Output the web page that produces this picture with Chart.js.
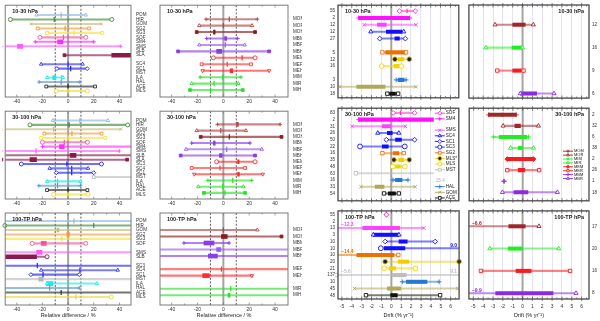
<!DOCTYPE html>
<html>
<head>
<meta charset="utf-8">
<script src="https://cdn.jsdelivr.net/npm/chart.js@4.4.0/dist/chart.umd.min.js"></script>
<style>
  body { margin: 0; background: #fff; width: 600px; height: 321px; overflow: hidden; position: relative; }
</style>
</head>
<body>
<script>
// ---------- relative differences (%), left two columns ----------
const a1Names = ['POM','HIR','GOM','SG2','SG3','SOF','SM4','SMS','SLB','SLA','','SC4','SC1','MST','ILA','HAL','ACE','MLS'];
const a1Lo  = [-24.6,-45,-29,-23.6,-16.4,-22,-25.6,-52,null,-2.8,null,-21,-8.7,null,-16.4,-22.6,-17,-9.2];
const a1Hi  = [13.8,34,26,16.4,26.7,13.8,20,41,null,55,null,11.3,14.9,null,-4,9.2,21,14.9];
const a1Q1  = [null,null,null,null,null,null,-8.2,-39.5,null,34,null,null,null,null,-12,null,null,null];
const a1Q3  = [null,null,null,null,null,null,-4.1,-35.4,null,55,null,null,null,null,-9.5,null,null,null];
const a1Med = [-5.4,-10.8,null,-2.3,4.6,-3.6,null,null,null,null,null,0,2,null,-5,-5.4,0,0];

const a2Names = ['POM','HIR','GOM','SG2','SG3','SOF','SM4','SMS','SLB','SLA','SC3','SC4','SC1','MST','ILA','HAL','ACE','MLS'];
const a2Lo  = [-11.8,-29.7,-52,-18.5,-21,-20,-20,-52,-55,-52,-36.4,-14.4,-9.2,20,-16.4,-22.8,-16.4,-11.3];
const a2Hi  = [31,46.4,41,26,29,15,55,40,55,46,26,15.6,20,55,9.7,9.7,15,15.6];
const a2Q1  = [null,null,null,null,null,null,-6.7,null,1.5,-29.7,null,null,null,null,null,null,null,null];
const a2Q3  = [null,null,null,null,null,null,-3,null,6.2,-24.6,null,null,null,null,null,null,null,null];
const a2Med = [9.2,0.8,-11.3,3,0,-3,null,-25,null,null,-1,2.8,2.8,null,-8.2,-8.2,0,0];

const a3Names = ['POM','HIR','GOM','SG2','SG3','SOF','','SMS','SLB','','SC3','SC4','SC1','MST','ILA','HAL','ACE','MLS'];
const a3Lo  = [-55,-49.3,-55,-55,-55,-28,null,-55,-55,null,-55,-21,-29,-55,-16.4,-55,-55,-55];
const a3Hi  = [55,55,55,55,55,13.8,null,55,-16.4,null,55,38.7,8.7,55,22.5,8.7,55,33.6];
const a3Q1  = [null,null,-8.7,-1,null,-21,null,-24.6,-55,null,null,null,null,-22.8,-17,null,null,null];
const a3Q3  = [null,null,-7.2,1,null,-17,null,-20.3,-24.6,null,null,null,null,-19.5,-11.8,null,null,null];
const a3Med = [4.6,20,null,null,-4.9,null,null,null,null,null,-24,9.2,-19.5,null,null,-14.4,-5.4,6];

const b1Names = ['MOM','MOR','MOH','MBM','MBR','MBH','MEM','MER','MEH','MIM','MIR','MIH'];
const b1Lo  = [-13.4,-18.6,-20.6,-12.9,-18.6,-35,-7.7,-16.8,-16,-18,-24.5,-25.8];
const b1Hi  = [26.3,22.2,24.5,11.1,16.5,35.4,24.5,21.4,35.4,13.7,11.6,15];
const b1Q1  = [null,null,-7.7,1,null,-5.2,null,null,5.2,null,null,null];
const b1Q3  = [null,null,-6.3,2.6,null,-1.3,null,null,7.2,null,null,null];
const b1Med = [4.6,0,null,null,1.5,null,14.5,3,null,-0.5,-7.2,-9.8];

const b2Names = ['MOM','MOR','MOH','MBM','MBR','MBH','MEM','MER','MEH','MIM','MIR','MIH'];
const b2Lo  = [-4.6,-20.6,-17.5,-24.5,-28.9,-33,-5.2,-24.5,-22.5,-12,-19.4,-15];
const b2Hi  = [43.9,17.5,45,20.6,29.7,24.5,24.5,16.8,30.5,22,15.5,16.8];
const b2Q1  = [10.3,null,null,-7.7,null,-3,11,null,11,null,null,null];
const b2Q3  = [11.6,null,null,-6.3,null,-1,12.2,null,12.4,null,null,null];
const b2Med = [null,-2,4.6,null,2.6,null,null,-2.6,null,7.2,-0.5,1.3];

const b3Names = ['','MOR','MOH','MBM','MBR','MBH','','MER','MEH','','MIR','MIH'];
const b3Lo  = [null,-55,-55,-30.5,-55,-55,null,-55,-55,null,-55,-55];
const b3Hi  = [null,26.3,45,4.4,55,55,null,55,22,null,55,55];
const b3Q1  = [null,null,-1.5,-15,-5.2,-11.6,null,null,-16,null,null,3.6];
const b3Q3  = [null,null,3,-7.2,-2,-4.6,null,null,-10.8,null,null,5.2];
const b3Med = [null,0,null,null,null,null,null,-1.5,null,null,5.7,null];

// ---------- drift (% per year), right two columns ----------
const driftNames = ['SOF','SM4','SMS','SC4','SC1','SC3','SG2','MLS*','MLS','MST','HAL','GOM','ACE'];

const c1Counts = ['55','2','12','12','27','','5','12','16','','3','10','18'];
const c1Lo  = [0.83,-3.3,-2.73,-2.07,-1.17,null,-0.9,0.37,-0.97,null,0.5,-5.2,-0.4];
const c1Hi  = [2.43,1.87,2.5,1.27,1.43,null,1.5,1.83,1.03,null,1.5,2.5,0.7];
const c1Q1  = [null,-3.3,-1.4,-0.5,0.37,null,-0.57,0.7,0.27,null,0.7,-3.5,-0.17];
const c1Q3  = [null,1.87,-0.5,1.1,0.83,null,1.5,1.27,0.77,null,1.3,-0.63,0.43];
const c1Med = [1.6,-0.7,null,null,null,null,null,null,null,null,null,null,null];

const c2Counts = ['83','2','31','26','50','22','16','35','48','63','16','33','54'];
const c2Lo  = [0.2,-3.3,-3.97,-1.37,-0.5,-3.17,-0.9,0.27,0.17,-3.6,0.17,-3.07,-0.73];
const c2Hi  = [2.37,5.6,1.43,0.77,2.37,1.37,1.27,1.83,1.37,15.4,1.7,2.43,0.77];
const c2Q1  = [null,-3.3,-0.9,-0.4,0.43,-0.9,0.2,0.77,0.43,null,0.43,-1.63,-0.3];
const c2Q3  = [null,5.6,-0.07,0.1,1.03,-0.3,0.77,1.27,0.93,null,1.1,-0.73,0.43];
const c2Med = [0.93,0.85,null,null,null,null,null,null,null,null,null,null,null];
const c2Legend = ['SOF','SM4','','SMS','SC4','SC1','SC3','SG2','MLS*','MLS','MST','','15.4','HAL','GOM','ACE'];

const c3Counts = ['55','2','13','3','10','10','10','20','21','137','10','45','48'];
const c3Lo  = [-0.5,null,-12.3,-1.83,-0.63,-1.07,-14.4,-0.63,-0.73,-5.6,1.1,-3.73,-2.57];
const c3Hi  = [-0.5,null,3.27,0.77,4.43,9.0,0.7,6.85,2.43,9.1,4.83,6.7,4.93];
const c3Q1  = [null,null,-2.9,-1.83,0.77,-0.73,-3.5,0.7,-0.23,0.1,1.5,-0.4,-0.07];
const c3Q3  = [null,null,0.83,0.77,1.6,1.37,0.27,1.77,0.43,1.5,3.6,0.93,0.6];
const c3Notes = [
  {row: 2, side: 'left', text: '\u221212.3', name: 'SMS'},
  {row: 5, side: 'right', text: '9.0', name: 'SC3'},
  {row: 6, side: 'left', text: '\u221214.4', name: 'SG2'},
  {row: 9, side: 'left', text: '\u22125.6', name: 'MST'},
  {row: 9, side: 'right', text: '9.1', name: 'MST'}
];

const d1Names = ['MOR','MIR','MER','MBR'];
const d1Counts = ['12','16','9','6'];
const d1Lo = [-2.8,-3.73,-2.57,-0.23];
const d1Hi = [1.1,0,0.1,3.2];
const d1Q1 = [-1,-1.07,-1,-0.23];
const d1Q3 = [0.27,0,-0.13,1.43];

const d2Names = ['MOM','MOR','MIM','MIR','MEM','MER','MBM','MBR'];
const d2Counts = ['2','32','6','38','2','26','1','18'];
const d2Lo = [-3.47,-2,-3,-1.23,-1.57,-1.57,-1.9,-2.07];
const d2Hi = [-0.67,1.6,0.6,1.1,1.1,1.67,-1.9,3.53];
const d2Q1 = [-3.47,-0.8,-2.4,-0.47,-1.57,-0.47,null,-0.9];
const d2Q3 = [-0.67,-0.23,0.43,0,1.1,0.2,null,0.53];
const d2Med = [-2.1,null,null,null,-0.05,null,null,null];

const d3Names = ['MOR','MIR','MER','MBR'];
const d3Counts = ['17','20','16','8'];
const d3Lo = [-6.6,-3.33,-4.23,-9.9];
const d3Hi = [1.67,3.67,4.83,5.43];
const d3Q1 = [-1.4,-1.47,-0.67,-2.73];
const d3Q3 = [0.27,0,0.87,3.1];
const d3Notes = [
  {row: 0, side: 'left', text: '\u22126.6', name: 'MOR'},
  {row: 3, side: 'left', text: '\u22129.9', name: 'MBR'}
];

// ---------- styles ----------
const relColor = {
  POM:'#8fb8e0', HIR:'#3d8b37', GOM:'#c4bd7a', SG2:'#f59a45', SG3:'#f3e43a', SOF:'#f0589a',
  SM4:'#ff2eff', SMS:'#ff5cff', SLB:'#8b1a4b', SLA:'#8b1a4b', SC3:'#2222ff', SC4:'#3535f5',
  SC1:'#2222ee', MST:'#b8b8b8', ILA:'#22e8e8', HAL:'#5a96d8', ACE:'#2b2b2b', MLS:'#f0d838',
  MOM:'#b04848', MOR:'#b04848', MOH:'#8e1c1c', MBM:'#8a3de8', MBR:'#9a5cf0', MBH:'#8a3de8',
  MEM:'#ff2a2a', MER:'#ff3a3a', MEH:'#ff2a2a', MIM:'#2ee02e', MIR:'#2ee02e', MIH:'#2ee02e'
};
const relMark = {
  POM:'triangle', HIR:'circle', GOM:'crossRot', SG2:'rect', SG3:'rect', SOF:'circle', SM4:'cross',
  SMS:'cross', SLB:'circle', SLA:'rect', SC3:'circle', SC4:'triangle', SC1:'rectRot', MST:'rect',
  ILA:'triangle', HAL:'cross', ACE:'rect', MLS:'circle', MOM:'cross', MOR:'triangle', MOH:'rect',
  MBM:'cross', MBR:'triangle', MBH:'rect', MEM:'circle', MER:'rect', MEH:'tdown', MIM:'cross',
  MIR:'triangle', MIH:'rect'
};
const relFilled = ['SLA','MOH','MBH','MIH'];

const driftColor = {
  SOF:'#ff30c8', SM4:'#ff10ff', SMS:'#ff40ff', SC4:'#1010ff', SC1:'#1010ff', SC3:'#1010ff',
  SG2:'#ee7000', 'MLS*':'#f2cc00', MLS:'#f2d400', MST:'#bdbdbd', HAL:'#2878d0', GOM:'#b0a858',
  ACE:'#111111', MOM:'#a02828', MOR:'#a02828', MIM:'#20ee20', MIR:'#20ee20', MEM:'#ff1a1a',
  MER:'#ff1a1a', MBM:'#8a2be2', MBR:'#8a2be2'
};
const driftMark = {
  SOF:'rectRot', SM4:'cross', SMS:'crossRot', SC4:'triangle', SC1:'rectRot', SC3:'circle',
  SG2:'rect', 'MLS*':'circle', MLS:'circle', MST:'rect', HAL:'cross', GOM:'crossRot', ACE:'rect',
  MOM:'cross', MOR:'triangle', MIM:'cross', MIR:'triangle', MEM:'rectRot', MER:'rect',
  MBM:'cross', MBR:'triangle'
};
const driftFilled = ['MLS*','MEM'];
const driftMarkFill = {'MLS*':'#222222'};

const FONT = '"Liberation Sans", Arial, sans-serif';
Chart.defaults.font.family = FONT;
Chart.defaults.color = '#222';

function fade(hex, a) {
  const n = parseInt(hex.slice(1), 16);
  return 'rgba(' + (n >> 16) + ',' + ((n >> 8) & 255) + ',' + (n & 255) + ',' + a + ')';
}

function markShape(ctx, style, x, y, r, fill, stroke) {
  ctx.fillStyle = fill; ctx.strokeStyle = stroke; ctx.lineWidth = 0.9;
  Chart.helpers.drawPoint(ctx, {
    pointStyle: style === 'tdown' ? 'triangle' : style,
    rotation: style === 'tdown' ? 180 : 0, radius: r, borderWidth: 0.9
  }, x, y);
}

const deco = {
  id: 'deco',
  beforeDatasetsDraw(chart, args, o) {
    const {ctx, chartArea: a} = chart;
    const x = chart.scales.x;
    ctx.save();
    ctx.beginPath(); ctx.rect(a.left, a.top, a.right - a.left, a.bottom - a.top); ctx.clip();
    const z = x.getPixelForValue(0);
    ctx.strokeStyle = '#a4a4a4'; ctx.lineWidth = 2;
    ctx.beginPath(); ctx.moveTo(z, a.top); ctx.lineTo(z, a.bottom); ctx.stroke();
    if (o.dashed) {
      ctx.strokeStyle = '#333'; ctx.lineWidth = 0.8; ctx.setLineDash([2, 1.6]);
      o.dashed.forEach(v => {
        const px = x.getPixelForValue(v);
        ctx.beginPath(); ctx.moveTo(px, a.top); ctx.lineTo(px, a.bottom); ctx.stroke();
      });
    }
    ctx.restore();
  },
  afterDatasetsDraw(chart, args, o) {
    const {ctx, chartArea: a} = chart;
    const y = chart.scales.y;
    ctx.save();
    (o.notes || []).forEach(n => {
      ctx.font = 'bold 5px ' + FONT;
      ctx.fillStyle = o.colors[n.name];
      ctx.textBaseline = 'bottom';
      const py = y.getPixelForValue(n.row) - 0.5;
      if (n.side === 'left') { ctx.textAlign = 'left'; ctx.fillText(n.text, a.left + 3, py); }
      else { ctx.textAlign = 'right'; ctx.fillText(n.text, a.right - 2, py); }
    });
    if (o.legend) {
      const L = o.legend;
      ctx.fillStyle = '#fff';
      ctx.fillRect(a.right - L.boxW, a.top + 1, L.boxW - 1, L.boxH);
      L.items.forEach((name, k) => {
        if (!name) return;
        const py = a.top + L.top + k * L.step;
        const mx = a.right - L.mx;
        const col = o.colors[name];
        ctx.textBaseline = 'middle'; ctx.textAlign = 'left';
        ctx.font = L.font + 'px ' + FONT;
        if (!col) {
          ctx.fillStyle = '#aaa'; ctx.fillText(name, mx - 4, py);
          return;
        }
        ctx.strokeStyle = col; ctx.lineWidth = 0.9;
        ctx.beginPath(); ctx.moveTo(mx - 5, py); ctx.lineTo(mx + 5, py); ctx.stroke();
        const filled = o.filled.includes(name);
        const mc = (o.markFill && o.markFill[name]) || col;
        markShape(ctx, o.marks[name], mx, py, L.r, filled ? mc : '#fff', col);
        ctx.fillStyle = '#222';
        ctx.fillText(name, mx + 6, py);
      });
    }
    ctx.restore();
  },
  afterDraw(chart, args, o) {
    const {ctx, chartArea: a} = chart;
    const x = chart.scales.x;
    ctx.save();
    // ticks along top and bottom edges
    ctx.strokeStyle = o.frameColor; ctx.lineWidth = 0.7;
    for (let v = o.tickFrom; v <= o.tickTo + 1e-9; v += o.tickStep) {
      const px = x.getPixelForValue(v);
      const major = Math.abs(v - Math.round(v / o.majorStep) * o.majorStep) < 1e-6;
      const len = major ? o.tickLen : o.tickLen * 0.6;
      ctx.beginPath();
      ctx.moveTo(px, a.top - (major ? o.tickOut : 0)); ctx.lineTo(px, a.top + len);
      ctx.moveTo(px, a.bottom + (major ? o.tickOut : 0)); ctx.lineTo(px, a.bottom - len);
      ctx.stroke();
    }
    ctx.strokeStyle = o.frameColor; ctx.lineWidth = o.frameWidth;
    ctx.strokeRect(a.left, a.top, a.right - a.left, a.bottom - a.top);
    ctx.fillStyle = '#222';
    ctx.font = 'bold 5.5px ' + FONT;
    ctx.textBaseline = 'top';
    if (o.titleRight) { ctx.textAlign = 'right'; ctx.fillText(o.title, a.right - 5, a.top + 4); }
    else { ctx.textAlign = 'left'; ctx.fillText(o.title, a.left + 7, a.top + 4); }
    ctx.restore();
  }
};

function addPanel(p) {
  const cv = document.createElement('canvas');
  cv.width = p.box[2]; cv.height = p.box[3];
  cv.style.cssText = 'position:absolute;left:' + p.box[0] + 'px;top:' + p.box[1] + 'px';
  document.body.appendChild(cv);

  const rel = p.kind === 'rel';
  const colors = rel ? relColor : driftColor;
  const marksOf = rel ? relMark : driftMark;
  const filledSet = rel ? relFilled : driftFilled;
  const markFill = rel ? {} : driftMarkFill;

  const whisk = [], whiskC = [], boxes = [], boxC = [], meds = [], medC = [];
  const marks = [], mStyle = [], mRot = [], mFill = [], mLine = [];
  p.names.forEach((name, i) => {
    if (p.lo[i] === null || p.lo[i] === undefined) return;
    const col = colors[name];
    const st = marksOf[name];
    whisk.push({x: [p.lo[i], p.hi[i]], y: i});
    whiskC.push(fade(col, name === 'MST' ? 0.6 : (rel ? 0.65 : 0.55)));
    if (p.q1 && p.q1[i] !== null) { boxes.push({x: [p.q1[i], p.q3[i]], y: i}); boxC.push(col); }
    if (p.med && p.med[i] !== null && p.med[i] !== undefined) { meds.push({x: p.med[i], y: i}); medC.push(col); }
    const filled = filledSet.includes(name);
    const mc = markFill[name] || col;
    [p.lo[i], p.hi[i]].forEach(v => {
      marks.push({x: v, y: i});
      mStyle.push(st === 'tdown' ? 'triangle' : st);
      mRot.push(st === 'tdown' ? 180 : 0);
      mFill.push(filled ? mc : '#ffffff');
      mLine.push(col);
    });
  });

  const tickLabels = p.counts || p.names;
  const yLen = p.names.length;

  new Chart(cv, {
    type: 'scatter',
    data: {
      datasets: [
        {type: 'scatter', data: marks, pointStyle: mStyle, pointRotation: mRot,
         pointBackgroundColor: mFill, pointBorderColor: mLine,
         pointRadius: rel ? 2 : 2.4, pointBorderWidth: 0.9, order: 0, clip: 3},
        {type: 'scatter', data: meds, pointStyle: 'line', pointRotation: 90,
         pointBorderColor: medC, pointRadius: rel ? 2.6 : 2.2, pointBorderWidth: 1.2, order: 1},
        {type: 'bar', indexAxis: 'y', data: boxes, backgroundColor: boxC,
         barThickness: rel ? 4 : 3.4, grouped: false, borderWidth: 0, order: 2},
        {type: 'bar', indexAxis: 'y', data: whisk, backgroundColor: whiskC,
         barThickness: 1.4, grouped: false, borderWidth: 0, order: 3}
      ]
    },
    options: {
      responsive: false,
      animation: false,
      events: [],
      layout: {padding: p.pad},
      plugins: {
        legend: {display: false},
        tooltip: {enabled: false},
        deco: {
          title: p.title, titleRight: p.titleRight, dashed: rel ? [-10, 10] : null,
          frameColor: rel ? '#7a7a7a' : '#4a4a4a', frameWidth: rel ? 1 : 1.3,
          tickFrom: rel ? -40 : -5, tickTo: rel ? 40 : 6.5, tickStep: rel ? 10 : 0.5,
          majorStep: rel ? 20 : 1, tickLen: rel ? 2.5 : 2.6, tickOut: rel ? 0 : 2,
          notes: p.notes, legend: p.legend, colors: colors, marks: marksOf,
          filled: filledSet, markFill: markFill
        }
      },
      scales: {
        x: {
          type: 'linear', min: p.xMin, max: p.xMax, offset: false,
          border: {display: false},
          grid: rel ? {display: false, drawTicks: false, tickLength: 0, offset: false}
                    : {display: true, color: '#dedaf2', lineWidth: 0.8, drawTicks: false, tickLength: 0, offset: false},
          ticks: {display: p.xLabels, font: {size: 5}, padding: rel ? 2 : 5, maxRotation: 0,
                  autoSkip: false, color: '#333'},
          title: {display: !!p.xTitle, text: p.xTitle, font: {size: 5.5}, padding: {top: 0, bottom: 2}, color: '#222'},
          afterBuildTicks: s => {
            const t = [];
            if (rel) { for (let v = -40; v <= 40; v += 20) t.push({value: v}); }
            else { for (let v = -5; v <= 6; v++) t.push({value: v}); }
            s.ticks = t;
          },
          afterFit: s => { s.height = p.xH; s.paddingLeft = 0; s.paddingRight = 0; }
        },
        y: {
          type: 'linear', reverse: true, min: p.yMin, max: p.yMax, offset: false,
          position: p.yPos,
          border: {display: false},
          grid: {display: false, drawTicks: false, tickLength: 0, offset: false},
          ticks: {font: {size: 4.6}, padding: rel ? 5 : 3, autoSkip: false, color: '#333',
                  callback: v => tickLabels[v] || ''},
          afterBuildTicks: s => { s.ticks = Array.from({length: yLen}, (_, i) => ({value: i})); },
          afterFit: s => { s.width = p.yW; s.paddingTop = 0; s.paddingBottom = 0; }
        }
      }
    },
    plugins: [deco]
  });
}

const relX = {xMin: -49, xMax: 49};
const relX2 = {xMin: -49, xMax: 50};
const drX3 = {xMin: -5.4, xMax: 6.85};
const drX4 = {xMin: -5.45, xMax: 6.75};

// column 1
addPanel(Object.assign({kind: 'rel', box: [0, 0, 150, 106], pad: {left: 4, top: 5, right: 0, bottom: 0},
  yW: 19, xH: 9, yPos: 'right', yMin: -2.2, yMax: 18.35, xLabels: true, title: '10-30 hPa',
  names: a1Names, lo: a1Lo, hi: a1Hi, q1: a1Q1, q3: a1Q3, med: a1Med}, relX));
addPanel(Object.assign({kind: 'rel', box: [0, 106, 150, 100], pad: {left: 4, top: 2, right: 0, bottom: 0},
  yW: 19, xH: 7, yPos: 'right', yMin: -2.15, yMax: 18.05, xLabels: true, title: '30-100 hPa',
  names: a2Names, lo: a2Lo, hi: a2Hi, q1: a2Q1, q3: a2Q3, med: a2Med}, relX));
addPanel(Object.assign({kind: 'rel', box: [0, 206, 150, 115], pad: {left: 4, top: 7, right: 0, bottom: 0},
  yW: 19, xH: 16, yPos: 'right', yMin: -1.8, yMax: 18.8, xLabels: true, title: '100-TP hPa',
  xTitle: 'Relative difference / %',
  names: a3Names, lo: a3Lo, hi: a3Hi, q1: a3Q1, q3: a3Q3, med: a3Med}, relX));

// column 2
addPanel(Object.assign({kind: 'rel', box: [150, 0, 152, 106], pad: {left: 10, top: 5, right: 0, bottom: 0},
  yW: 14, xH: 9, yPos: 'right', yMin: -2.17, yMax: 12.08, xLabels: true, title: '10-30 hPa',
  names: b1Names, lo: b1Lo, hi: b1Hi, q1: b1Q1, q3: b1Q3, med: b1Med}, relX2));
addPanel(Object.assign({kind: 'rel', box: [150, 106, 152, 100], pad: {left: 10, top: 2, right: 0, bottom: 0},
  yW: 14, xH: 7, yPos: 'right', yMin: -2.12, yMax: 11.98, xLabels: true, title: '30-100 hPa',
  names: b2Names, lo: b2Lo, hi: b2Hi, q1: b2Q1, q3: b2Q3, med: b2Med}, relX2));
addPanel(Object.assign({kind: 'rel', box: [150, 206, 152, 115], pad: {left: 10, top: 7, right: 0, bottom: 0},
  yW: 14, xH: 16, yPos: 'right', yMin: -1.6, yMax: 12.5, xLabels: true, title: '100-TP hPa',
  xTitle: 'Relative difference / %',
  names: b3Names, lo: b3Lo, hi: b3Hi, q1: b3Q1, q3: b3Q3, med: b3Med}, relX2));

// column 3
addPanel(Object.assign({kind: 'drift', box: [316, 0, 148, 103], pad: {left: 0, top: 5, right: 2, bottom: 0},
  yW: 22, xH: 3, yPos: 'left', yMin: -0.85, yMax: 12.6, xLabels: false, title: '10-30 hPa',
  names: driftNames, counts: c1Counts, lo: c1Lo, hi: c1Hi, q1: c1Q1, q3: c1Q3, med: c1Med}, drX3));
addPanel(Object.assign({kind: 'drift', box: [316, 103, 148, 103], pad: {left: 0, top: 2, right: 2, bottom: 0},
  yW: 22, xH: 3, yPos: 'left', yMin: -0.7, yMax: 13.1, xLabels: false, title: '30-100 hPa',
  names: driftNames, counts: c2Counts, lo: c2Lo, hi: c2Hi, q1: c2Q1, q3: c2Q3, med: c2Med,
  legend: {items: c2Legend, boxW: 25, boxH: 94, top: 5, step: 5.65, mx: 19, r: 2, font: 4.6}}, drX3));
addPanel(Object.assign({kind: 'drift', box: [316, 206, 148, 115], pad: {left: 0, top: 1, right: 2, bottom: 0},
  yW: 22, xH: 22, yPos: 'left', yMin: -0.56, yMax: 12.56, xLabels: true, title: '100-TP hPa',
  xTitle: 'Drift (% yr\u207B\u00B9)', notes: c3Notes,
  names: driftNames, counts: c3Counts, lo: c3Lo, hi: c3Hi, q1: c3Q1, q3: c3Q3}, drX3));

// column 4
addPanel(Object.assign({kind: 'drift', box: [464, 0, 136, 103], pad: {left: 2, top: 5, right: 0, bottom: 0},
  yW: 11, xH: 3, yPos: 'right', yMin: -0.86, yMax: 3.2, xLabels: false, title: '10-30 hPa', titleRight: true,
  names: d1Names, counts: d1Counts, lo: d1Lo, hi: d1Hi, q1: d1Q1, q3: d1Q3}, drX4));
addPanel(Object.assign({kind: 'drift', box: [464, 103, 136, 103], pad: {left: 2, top: 2, right: 0, bottom: 0},
  yW: 11, xH: 3, yPos: 'right', yMin: -0.6, yMax: 7.77, xLabels: false, title: '30-100 hPa', titleRight: true,
  names: d2Names, counts: d2Counts, lo: d2Lo, hi: d2Hi, q1: d2Q1, q3: d2Q3, med: d2Med,
  legend: {items: d2Names, boxW: 0, boxH: 0, top: 43, step: 3.9, mx: 21, r: 1.6, font: 4}}, drX4));
addPanel(Object.assign({kind: 'drift', box: [464, 206, 136, 115], pad: {left: 2, top: 1, right: 0, bottom: 0},
  yW: 11, xH: 22, yPos: 'right', yMin: -0.69, yMax: 3.26, xLabels: true, title: '100-TP hPa', titleRight: true,
  xTitle: 'Drift (% yr\u207B\u00B9)', notes: d3Notes,
  names: d3Names, counts: d3Counts, lo: d3Lo, hi: d3Hi, q1: d3Q1, q3: d3Q3}, drX4));
</script>
</body>
</html>
